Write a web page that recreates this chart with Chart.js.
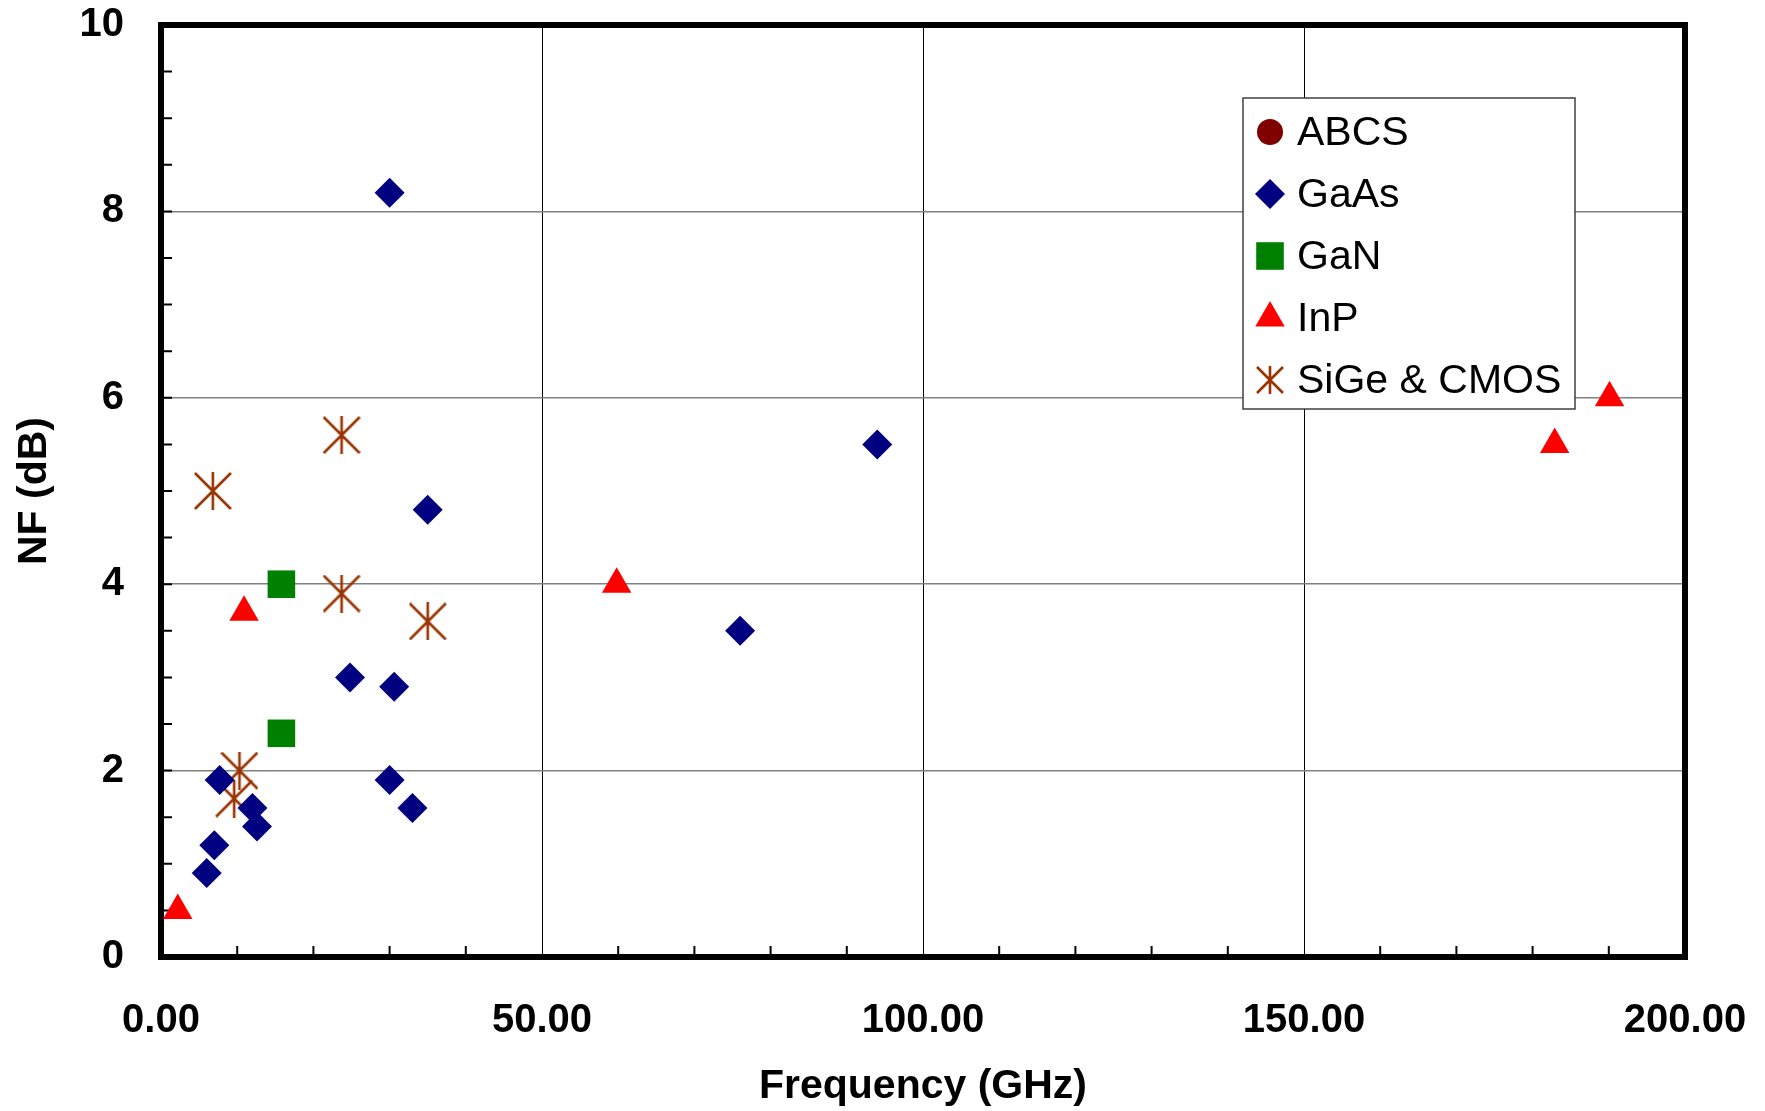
<!DOCTYPE html>
<html>
<head>
<meta charset="utf-8">
<script src="https://cdn.jsdelivr.net/npm/chart.js@4.4.0/dist/chart.umd.min.js"></script>
<style>
    html, body { margin: 0; padding: 0; background: #fff; }
</style>
</head>
<body>
<canvas id="nfChart" width="1765" height="1111"></canvas>
<script>
// values
const seriesNames = ["ABCS", "GaAs", "GaN", "InP", "SiGe & CMOS"];

const abcsFreq = [];
const abcsNF = [];

const gaasFreq = [30, 94, 35, 76, 24.8, 30.6, 7.7, 30, 12, 33, 12.6, 7, 6];
const gaasNF = [8.2, 5.5, 4.8, 3.5, 3.0, 2.9, 1.9, 1.9, 1.6, 1.6, 1.4, 1.2, 0.9];

const ganFreq = [15.8, 15.8];
const ganNF = [4.0, 2.4];

const inpFreq = [2.2, 10.9, 59.8, 182.9, 190.1];
const inpNF = [0.5, 3.7, 4.0, 5.5, 6.0];

const sigeFreq = [6.8, 23.7, 23.7, 35, 10.3, 9.6];
const sigeNF = [5.0, 5.6, 3.9, 3.6, 2.0, 1.7];

const xTicks = [0, 50, 100, 150, 200];
const yTicks = [0, 2, 4, 6, 8, 10];

const FONT = "'Liberation Sans', Arial, sans-serif";

function toPoints(xs, ys) {
    return xs.map((x, i) => ({ x: x, y: ys[i] }));
}

// excel style asterisk marker: X plus a vertical bar
function makeStar(size, color) {
    const c = document.createElement("canvas");
    c.width = size;
    c.height = size;
    const g = c.getContext("2d");
    g.strokeStyle = color;
    g.lineWidth = 2.6;
    g.beginPath();
    g.moveTo(1, 1); g.lineTo(size - 1, size - 1);
    g.moveTo(size - 1, 1); g.lineTo(1, size - 1);
    g.moveTo(size / 2, 0); g.lineTo(size / 2, size);
    g.stroke();
    return c;
}

const starMarker = makeStar(38, "#993300");
const starLegend = makeStar(28, "#993300");

const framePlugin = {
    id: "frame",
    beforeDatasetsDraw(chart) {
        const { ctx, chartArea: a, scales } = chart;
        ctx.save();
        ctx.strokeStyle = "#000";
        ctx.lineWidth = 2;
        ctx.beginPath();
        for (let v = 10; v < 200; v += 10) {
            if (v % 50 === 0) continue;
            const px = scales.x.getPixelForValue(v);
            ctx.moveTo(px, a.bottom);
            ctx.lineTo(px, a.bottom - 11);
        }
        for (let v = 0.5; v < 10; v += 0.5) {
            const py = scales.y.getPixelForValue(v);
            ctx.moveTo(a.left, py);
            ctx.lineTo(a.left + 11, py);
        }
        ctx.stroke();
        ctx.lineWidth = 6;
        ctx.strokeRect(a.left, a.top, a.right - a.left, a.bottom - a.top);
        ctx.restore();
    },
};

const boxLegend = {
    id: "boxLegend",
    afterDraw(chart) {
        const ctx = chart.ctx;
        const left = 1243, top = 98, width = 332, height = 311;
        ctx.save();
        ctx.fillStyle = "#fff";
        ctx.fillRect(left, top, width, height);
        ctx.strokeStyle = "#404040";
        ctx.lineWidth = 1.5;
        ctx.strokeRect(left, top, width, height);
        ctx.font = "41px " + FONT;
        ctx.textBaseline = "middle";
        chart.data.datasets.forEach((ds, i) => {
            const cy = top + 34 + i * 62;
            const style = ds.pointStyle === starMarker ? starLegend : ds.pointStyle;
            ctx.fillStyle = ds.backgroundColor;
            ctx.strokeStyle = ds.borderColor;
            Chart.helpers.drawPoint(ctx, {
                pointStyle: style,
                radius: ds.pointRadius,
                rotation: 0,
                borderWidth: 0,
            }, left + 27, cy);
            ctx.fillStyle = "#000";
            ctx.fillText(ds.label, left + 54, cy + 2);
        });
        ctx.restore();
    },
};

new Chart(document.getElementById("nfChart").getContext("2d"), {
    type: "scatter",
    data: {
        datasets: [
            {
                label: seriesNames[0],
                data: toPoints(abcsFreq, abcsNF),
                pointStyle: "circle",
                pointRadius: 13,
                backgroundColor: "#800000",
                borderColor: "#800000",
                borderWidth: 0,
            },
            {
                label: seriesNames[1],
                data: toPoints(gaasFreq, gaasNF),
                pointStyle: "rectRot",
                pointRadius: 15,
                backgroundColor: "#000080",
                borderColor: "#000080",
                borderWidth: 0,
            },
            {
                label: seriesNames[2],
                data: toPoints(ganFreq, ganNF),
                pointStyle: "rect",
                pointRadius: 19.5,
                backgroundColor: "#008000",
                borderColor: "#008000",
                borderWidth: 0,
            },
            {
                label: seriesNames[3],
                data: toPoints(inpFreq, inpNF),
                pointStyle: "triangle",
                pointRadius: 17,
                backgroundColor: "#ff0000",
                borderColor: "#ff0000",
                borderWidth: 0,
            },
            {
                label: seriesNames[4],
                data: toPoints(sigeFreq, sigeNF),
                pointStyle: starMarker,
                pointRadius: 19,
                backgroundColor: "#993300",
                borderColor: "#993300",
                borderWidth: 0,
            },
        ],
    },
    options: {
        responsive: false,
        animation: false,
        devicePixelRatio: 1,
        events: [],
        layout: {
            padding: { top: 25, right: 80, left: 0, bottom: 0 },
        },
        scales: {
            x: {
                type: "linear",
                min: 0,
                max: 200,
                afterBuildTicks: (scale) => {
                    scale.ticks = xTicks.map((v) => ({ value: v }));
                },
                afterFit: (scale) => {
                    scale.height = 154;
                    scale.paddingLeft = 0;
                    scale.paddingRight = 0;
                },
                ticks: {
                    callback: (v) => Number(v).toFixed(2),
                    color: "#000",
                    font: { family: FONT, size: 40, weight: "bold" },
                    padding: 40,
                    maxRotation: 0,
                },
                grid: { color: "#000", lineWidth: 1, drawTicks: false },
                border: { display: false },
                title: {
                    display: true,
                    text: "Frequency (GHz)",
                    color: "#000",
                    font: { family: FONT, size: 41, weight: "bold" },
                    padding: { top: 0, bottom: 0 },
                },
            },
            y: {
                min: 0,
                max: 10,
                afterBuildTicks: (scale) => {
                    scale.ticks = yTicks.map((v) => ({ value: v }));
                },
                afterFit: (scale) => {
                    scale.width = 161;
                    scale.paddingTop = 0;
                    scale.paddingBottom = 0;
                },
                ticks: {
                    color: "#000",
                    font: { family: FONT, size: 40, weight: "bold" },
                    padding: 37,
                },
                grid: { color: "#808080", lineWidth: 1.5, drawTicks: false },
                border: { display: false },
                title: {
                    display: true,
                    text: "NF (dB)",
                    color: "#000",
                    font: { family: FONT, size: 41, weight: "bold" },
                    padding: { top: 10, bottom: 0 },
                },
            },
        },
        plugins: {
            legend: { display: false },
            tooltip: { enabled: false },
        },
    },
    plugins: [framePlugin, boxLegend],
});
</script>
</body>
</html>
